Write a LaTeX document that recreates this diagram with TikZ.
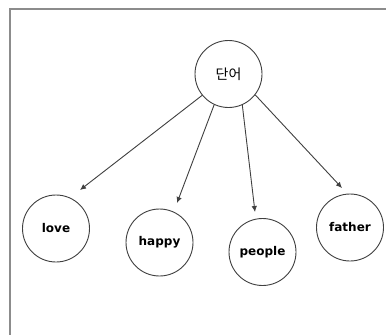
\documentclass[tikz,border=0pt]{standalone}
\usepackage{fontspec}
\setmainfont{DejaVu Sans}
\newfontfamily\krfont{Noto Sans CJK KR}
\usetikzlibrary{arrows.meta}
\begin{document}
\begin{tikzpicture}[x=1pt,y=-1pt,
  frameline/.style={draw=black!45,line width=2pt},
  wordnode/.style={circle,draw=black!75,line width=0.9pt,minimum size=67pt,inner sep=0pt,
    font=\fontsize{12}{12}\selectfont\bfseries},
  link/.style={draw=black!75,line width=0.9pt,-{Latex[length=6pt,width=5.5pt]}}]
\useasboundingbox (0,0) rectangle (386,335);
\fill[white] (0,0) rectangle (386,335);
% outer frame, running past the right and bottom edges
\draw[frameline] (400,8.5) -- (9.5,8.5) -- (9.5,350);

% root and leaves
\node[wordnode,font=\krfont\fontsize{14}{14}\selectfont] (w) at (228.5,74) {단어};
\node[wordnode] (love)   at (56,228.5)   {love};
\node[wordnode] (happy)  at (159.5,242.5) {happy};
\node[wordnode] (people) at (262.5,252)  {people};
\node[wordnode] (father) at (350,227.5)  {father};

% arrow tips stop just short of each leaf
\coordinate (loveIn)   at (80,190);
\coordinate (happyIn)  at (177,203);
\coordinate (peopleIn) at (255,212);
\coordinate (fatherIn) at (342,188);

\draw[link] (w.219) -- (loveIn);
\draw[link] (w.245) -- (happyIn);
\draw[link] (w.294) -- (peopleIn);
\draw[link] (w.322) -- (fatherIn);
\end{tikzpicture}
\end{document}
